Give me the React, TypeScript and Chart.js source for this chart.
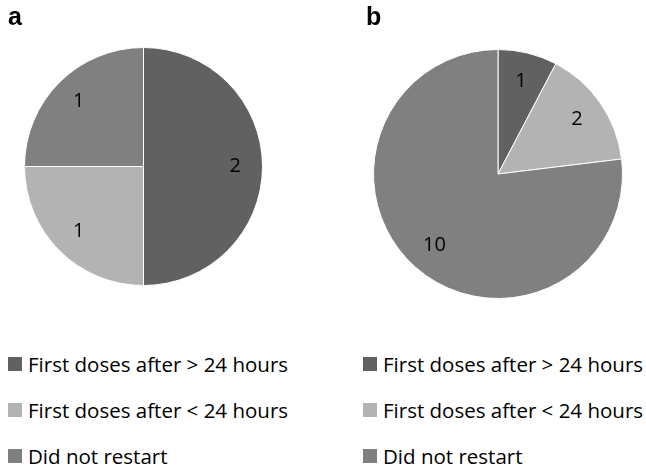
import React, { useEffect, useRef } from "react";
import { Chart, registerables } from "chart.js";

Chart.register(...registerables);

const categories = ["First doses after > 24 hours", "First doses after < 24 hours", "Did not restart"];
const valuesA = [2, 1, 1];
const valuesB = [1, 2, 10];
const colors = ["#616161", "#b3b3b3", "#808080"];
const panelLabels = ["a", "b"];

const FONT = "'Open Sans', sans-serif";

const sliceLabels = {
  id: "sliceLabels",
  afterDatasetsDraw(chart: any) {
    const ctx = chart.ctx;
    const meta = chart.getDatasetMeta(0);
    const data = chart.data.datasets[0].data;
    ctx.save();
    ctx.fillStyle = "#000";
    ctx.font = `20px ${FONT}`;
    ctx.textAlign = "center";
    ctx.textBaseline = "middle";
    meta.data.forEach((arc: any, i: number) => {
      const p = arc.getProps(["x", "y", "startAngle", "endAngle", "outerRadius"], true);
      const mid = (p.startAngle + p.endAngle) / 2;
      const r = p.outerRadius * 0.77;
      ctx.fillText(String(data[i]), p.x + Math.cos(mid) * r, p.y + Math.sin(mid) * r);
    });
    ctx.restore();
  },
};

function PieChart({ values, padding }: { values: number[]; padding: any }) {
  const ref = useRef<HTMLCanvasElement>(null);
  useEffect(() => {
    const chart = new Chart(ref.current!, {
      type: "pie",
      data: {
        labels: categories,
        datasets: [
          {
            data: values,
            backgroundColor: colors,
            borderColor: "#ffffff",
            borderWidth: 1,
          },
        ],
      },
      options: {
        responsive: false,
        animation: false,
        layout: { padding },
        plugins: {
          legend: { display: false },
          tooltip: { enabled: false },
        },
      },
      plugins: [sliceLabels],
    });
    return () => chart.destroy();
  }, []);
  return <canvas ref={ref} width={323} height={300} style={{ display: "block" }} />;
}

function Legend({ left }: { left: number }) {
  const rows = [364, 410, 456];
  return (
    <>
      {categories.map((c, i) => (
        <div
          key={c}
          style={{
            position: "absolute",
            left,
            top: rows[i] - 14,
            height: 28,
            display: "flex",
            alignItems: "center",
            fontFamily: FONT,
            fontSize: 20.5,
            lineHeight: "28px",
            color: "#000",
            whiteSpace: "nowrap",
          }}
        >
          <span style={{ display: "inline-block", width: 14, height: 14, background: colors[i], marginRight: 6 }} />
          {c}
        </div>
      ))}
    </>
  );
}

const panelStyle = {
  position: "absolute" as const,
  top: 2,
  fontFamily: "'Liberation Sans', Arial, sans-serif",
  fontWeight: "bold" as const,
  fontSize: 25,
  lineHeight: "29px",
};

export default function App() {
  return (
    <div style={{ position: "absolute", left: 0, top: 0, width: 646, height: 467, background: "#fff", overflow: "hidden" }}>
      <div style={{ position: "absolute", left: 0, top: 0 }}>
        <PieChart values={valuesA} padding={{ left: 24, top: 47, right: 60, bottom: 14 }} />
      </div>
      <div style={{ position: "absolute", left: 323, top: 0 }}>
        <PieChart values={valuesB} padding={{ left: 50, top: 49, right: 23, bottom: 1 }} />
      </div>
      <div style={{ ...panelStyle, left: 8 }}>{panelLabels[0]}</div>
      <div style={{ ...panelStyle, left: 366 }}>{panelLabels[1]}</div>
      <Legend left={8} />
      <Legend left={363} />
    </div>
  );
}
